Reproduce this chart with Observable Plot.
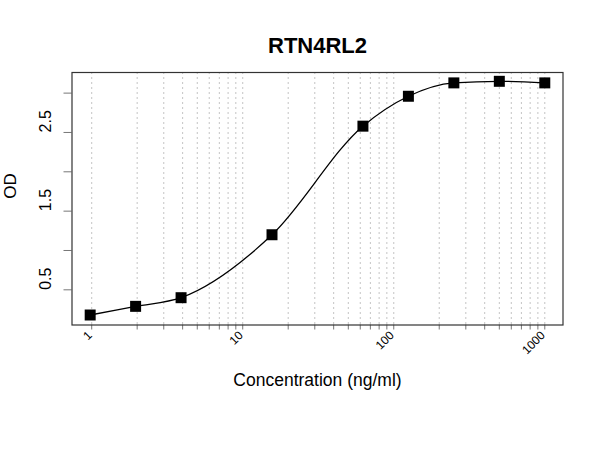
<!DOCTYPE html>
<html>
<head>
<meta charset="utf-8">
<script src="https://cdn.jsdelivr.net/npm/d3@7"></script>
<script src="https://cdn.jsdelivr.net/npm/@observablehq/plot@0.6"></script>
<style>
  html, body { margin: 0; padding: 0; background: #fff; }
  #chart svg { display: block; }
</style>
</head>
<body>
<div id="chart"></div>
<script>
// Standard curve: two-fold dilution series and measured optical density
const concentration = [0.977, 1.953, 3.906, 15.625, 62.5, 125, 250, 500, 1000];
const od = [0.18, 0.29, 0.40, 1.20, 2.58, 2.96, 3.13, 3.15, 3.13];

// Axis ticks
const xMinorTicks = [1, 2, 3, 4, 5, 6, 7, 8, 9,
  10, 20, 30, 40, 50, 60, 70, 80, 90,
  100, 200, 300, 400, 500, 600, 700, 800, 900, 1000];
const xMajorTicks = [1, 10, 100, 1000];
const yTicks = [0.5, 1.0, 1.5, 2.0, 2.5, 3.0];
const yLabelTicks = [0.5, 1.5, 2.5];

const points = concentration.map((c, i) => ({conc: c, od: od[i]}));

const font = "'Liberation Sans', Arial, Helvetica, sans-serif";

const chart = Plot.plot({
  width: 600,
  height: 450,
  marginTop: 72,
  marginLeft: 71.5,
  marginRight: 37.5,
  marginBottom: 125.5,
  style: {fontFamily: font, background: "#fff", color: "#000"},
  x: {type: "log", domain: [0.7405, 1320], label: null},
  y: {domain: [0.053, 3.262], label: null},
  marks: [
    // dotted vertical grid
    Plot.ruleX(xMinorTicks, {x: d => d, stroke: "#c4c4c4", strokeWidth: 1, strokeDasharray: "2,3"}),
    // x ticks
    Plot.axisX(xMinorTicks, {tickSize: 5, tickFormat: () => "", stroke: "#777", label: null}),
    Plot.text(xMajorTicks, {
      x: d => d, text: d => String(d), frameAnchor: "bottom",
      dy: 11, dx: 1, rotate: -45, textAnchor: "end", fontSize: 12
    }),
    // y ticks
    Plot.axisY(yTicks, {anchor: "left", tickSize: 8, tickFormat: () => "", stroke: "#777", label: null}),
    Plot.text(yLabelTicks, {
      y: d => d, text: d => d.toFixed(1), frameAnchor: "left",
      dx: -26.5, rotate: -90, fontSize: 16
    }),
    Plot.frame({stroke: "#333", strokeWidth: 1.2}),
    // fitted curve and measured points
    Plot.line(points, {x: "conc", y: "od", curve: "monotone-x", stroke: "#000", strokeWidth: 1.3}),
    Plot.dot(points, {x: "conc", y: "od", symbol: "square", r: 6.2, fill: "#000", stroke: "none"}),
    // titles
    Plot.text(["RTN4RL2"], {frameAnchor: "top", dy: -35, fontSize: 22, fontWeight: "bold"}),
    Plot.text(["Concentration (ng/ml)"], {frameAnchor: "bottom", dy: 61, fontSize: 17.5}),
    Plot.text(["OD"], {frameAnchor: "left", dx: -61, rotate: -90, fontSize: 17})
  ]
});

document.getElementById("chart").appendChild(chart);
</script>
</body>
</html>
